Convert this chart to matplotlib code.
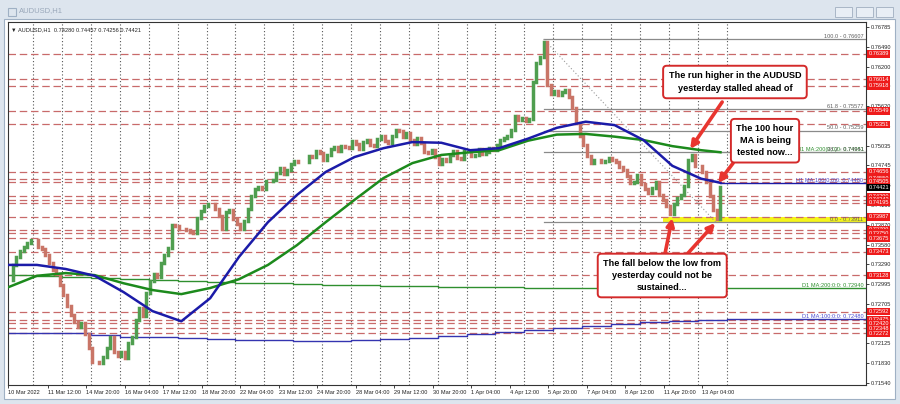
import matplotlib
matplotlib.use("Agg")
import matplotlib.pyplot as plt
from matplotlib.patches import Rectangle
from matplotlib.transforms import blended_transform_factory

plt.rcParams['font.family'] = ['Liberation Sans', 'DejaVu Sans']

# closes of every 3 hourly bars (bar 0 = 10 Mar 03:00)
bars_per_candle = 3
closes = [
    0.7306, 0.7328, 0.7340, 0.7349, 0.7354, 0.7360, 0.7365, 0.7365, 0.7354, 0.7351,
    0.7343, 0.7331, 0.7321, 0.7315, 0.7298, 0.7284, 0.7268, 0.7254, 0.7244, 0.7237,
    0.7242, 0.7226, 0.7206, 0.7185, 0.7185, 0.7184, 0.7192, 0.7206, 0.7222, 0.7200,
    0.7194, 0.7200, 0.7191, 0.7213, 0.7222, 0.7247, 0.7265, 0.7253, 0.7287, 0.7304,
    0.7315, 0.7310, 0.7331, 0.7343, 0.7353, 0.7387, 0.7385, 0.7381, 0.7381, 0.7379,
    0.7377, 0.7375, 0.7397, 0.7407, 0.7415, 0.7418, 0.7418, 0.7410, 0.7400, 0.7381,
    0.7406, 0.7409, 0.7396, 0.7388, 0.7381, 0.7393, 0.7410, 0.7430, 0.7440, 0.7443,
    0.7440, 0.7452, 0.7452, 0.7453, 0.7463, 0.7471, 0.7462, 0.7468, 0.7477, 0.7481,
    0.7480, 0.7480, 0.7480, 0.7489, 0.7487, 0.7496, 0.7493, 0.7483, 0.7490, 0.7499,
    0.7502, 0.7496, 0.7503, 0.7502, 0.7500, 0.7511, 0.7506, 0.7499, 0.7509, 0.7512,
    0.7505, 0.7503, 0.7514, 0.7518, 0.7511, 0.7508, 0.7518, 0.7527, 0.7525, 0.7516,
    0.7522, 0.7512, 0.7506, 0.7515, 0.7508, 0.7494, 0.7493, 0.7497, 0.7487, 0.7477,
    0.7484, 0.7481, 0.7490, 0.7496, 0.7486, 0.7484, 0.7496, 0.7496, 0.7489, 0.7490,
    0.7499, 0.7491, 0.7494, 0.7500, 0.7497, 0.7505, 0.7512, 0.7515, 0.7518, 0.7527,
    0.7547, 0.7542, 0.7544, 0.7540, 0.7543, 0.7598, 0.7626, 0.7634, 0.7656, 0.7593,
    0.7580, 0.7584, 0.7578, 0.7583, 0.7586, 0.7575, 0.7559, 0.7537, 0.7518, 0.7505,
    0.7489, 0.7478, 0.7483, 0.7483, 0.7480, 0.7481, 0.7486, 0.7483, 0.7480, 0.7472,
    0.7468, 0.7459, 0.7449, 0.7450, 0.7461, 0.7447, 0.7440, 0.7434, 0.7441, 0.7450,
    0.7431, 0.7424, 0.7415, 0.7403, 0.7418, 0.7427, 0.7431, 0.7444, 0.7483, 0.7490,
    0.7474, 0.7474, 0.7465, 0.7450, 0.7430, 0.7409, 0.7396, 0.74421,
]

# hourly moving averages read every 24 bars
ma_bars = [0, 24, 48, 72, 96, 120, 144, 168, 192, 216, 240, 264, 288, 312, 336,
           360, 384, 408, 432, 456, 480, 504, 528, 552, 576, 592]
h1_ma100 = [0.7328, 0.7328, 0.7322, 0.7312, 0.7288, 0.7260, 0.7245, 0.7279, 0.7340,
            0.7391, 0.7431, 0.7465, 0.7487, 0.7500, 0.7509, 0.7508, 0.7497, 0.7500,
            0.7514, 0.7530, 0.7539, 0.7534, 0.7512, 0.7474, 0.7455, 0.7449]
h1_ma200 = [0.7295, 0.7312, 0.7316, 0.7313, 0.7301, 0.7291, 0.7285, 0.7294, 0.7307,
            0.7328, 0.7357, 0.7391, 0.7424, 0.7456, 0.7478, 0.7490, 0.7494, 0.7497,
            0.7511, 0.7520, 0.7521, 0.7517, 0.7512, 0.7503, 0.7497, 0.7494]

# daily moving averages (one value per day)
day_starts = [0] + [21 + 24 * k for k in range(25)]
d1_ma200 = [0.7313, 0.7312, 0.7310, 0.7309, 0.7307, 0.7306, 0.7304, 0.7303, 0.7301,
            0.7301, 0.7300, 0.7298, 0.7298, 0.7297, 0.7297, 0.7295, 0.7295, 0.7295,
            0.7294, 0.7294, 0.7294, 0.7294, 0.7294, 0.7294, 0.7294, 0.7294]
d1_ma100 = [0.7228, 0.7228, 0.7228, 0.7225, 0.7222, 0.7222, 0.7220, 0.7219, 0.7217,
            0.7217, 0.7216, 0.7216, 0.7217, 0.7219, 0.7220, 0.7223, 0.7226, 0.7229,
            0.7232, 0.7235, 0.7238, 0.7241, 0.7244, 0.7245, 0.7247, 0.7248]

level_prices = [0.76389, 0.76014, 0.75918, 0.75549, 0.75351, 0.74656, 0.74550, 0.74505,
                0.74290, 0.74243, 0.74195, 0.73987, 0.73799, 0.73750, 0.73675, 0.73473,
                0.73128, 0.72592, 0.72475, 0.72420, 0.72348, 0.72272]
fib_levels = ['100.0', '61.8', '50.0', '38.2', '0.0']
fib_prices = [0.76607, 0.75577, 0.75259, 0.74941, 0.73911]
fib_from_bar, fib_to_bar = 445, 588
yellow_zone = (0.73915, 0.73990)
yellow_from_bar = 544
last_price = 0.74421
ma100_now = 0.74480

yticks = [0.71540, 0.71830, 0.72125, 0.72415, 0.72705, 0.72995, 0.73290, 0.73580,
          0.73870, 0.74160, 0.74455, 0.74745, 0.75035, 0.75325, 0.75620, 0.75910,
          0.76200, 0.76490, 0.76785]
xtick_bars = [0] + [1 + 32 * k for k in range(1, 19)]
xtick_labels = ['10 Mar 2022', '11 Mar 12:00', '14 Mar 20:00', '16 Mar 04:00',
                '17 Mar 12:00', '18 Mar 20:00', '22 Mar 04:00', '23 Mar 12:00',
                '24 Mar 20:00', '28 Mar 04:00', '29 Mar 12:00', '30 Mar 20:00',
                '1 Apr 04:00', '4 Apr 12:00', '5 Apr 20:00', '7 Apr 04:00',
                '8 Apr 12:00', '11 Apr 20:00', '13 Apr 04:00']
grid_bars = [21 + 24 * k for k in range(25)]

W, H = 900, 404
fig = plt.figure(figsize=(W / 100, H / 100), dpi=100)
fig.patch.set_facecolor('#dde5ee')


def fx(x):
    return x / W


def fy(y):
    return 1 - y / H


# window chrome (behind the axes)
fig.add_artist(Rectangle((fx(4), fy(399)), fx(891), 380 / H, transform=fig.transFigure,
                         facecolor='white', edgecolor='#9fb0c4', lw=0.8, zorder=-5))
fig.add_artist(Rectangle((fx(8), fy(16)), fx(8), 8 / H, transform=fig.transFigure,
                         facecolor='none', edgecolor='#9fb0c4', lw=0.8, zorder=-5))
fig.text(fx(19), fy(11), 'AUDUSD,H1', fontsize=5.5, color='#9aa8ba', va='center')
for bx in [835, 856, 876]:
    fig.add_artist(Rectangle((fx(bx), fy(17)), fx(17), 10 / H, transform=fig.transFigure,
                             facecolor='#e8eef5', edgecolor='#a9b6c6', lw=0.7, zorder=-5))

ax = fig.add_axes([fx(8), fy(385), fx(858), 363 / H])
ax.set_facecolor('white')
ax.set_xlim(0.8, 712.9)
ax.set_ylim(0.71511, 0.76859)

# dotted day grid
for g in grid_bars:
    ax.axvline(g, color='#555555', lw=0.8, ls=(0, (1, 2)), zorder=1)

# support / resistance levels
for p in level_prices:
    ax.axhline(p, color='#c86a6a', lw=0.9, ls=(0, (6, 3)), zorder=1.5)

# yellow zone
ax.add_patch(Rectangle((yellow_from_bar, yellow_zone[0]), 800, yellow_zone[1] - yellow_zone[0],
                       facecolor='#f5f51a', edgecolor='none', zorder=1.4))

# fibonacci
for lab, p in zip(fib_levels, fib_prices):
    ax.plot([fib_from_bar, 712.9], [p, p], color='#8a8a8a', lw=0.9, zorder=1.6)
ax.plot([fib_from_bar, fib_to_bar], [fib_prices[0], fib_prices[-1]], color='#9a9a9a',
        lw=0.8, ls=(0, (1, 2)), zorder=1.6)

# daily MAs
d_x = day_starts + [712.9]
ax.step(d_x, d1_ma200 + [d1_ma200[-1]], where='post', color='#2f8f2f', lw=1.0, zorder=2)
ax.step(d_x, d1_ma100 + [d1_ma100[-1]], where='post', color='#3434b0', lw=1.0, zorder=2)

# candles
xs, opens, cl, cols = [], [], [], []
for j, c in enumerate(closes):
    o = closes[j - 1] if j > 0 else c
    xs.append(bars_per_candle * j + 1)
    opens.append(o)
    cl.append(c)
    cols.append('#4f9e4f' if c >= o else '#c97567')
vl = ax.vlines(xs, opens, cl, colors=cols, lw=2.5, zorder=3)
vl.set_capstyle('projecting')

# hourly MAs
ax.plot(ma_bars, h1_ma200, color='#1c8a1c', lw=1.8, zorder=4)
ax.plot(ma_bars, h1_ma100, color='#1b1ba8', lw=1.8, zorder=4)
ax.plot([ma_bars[-1], 712.9], [ma100_now, ma100_now], color='#1b1ba8', lw=1.0, zorder=4)
ax.plot([ma_bars[-1], 712.9], [h1_ma200[-1], h1_ma200[-1]], color='#1c8a1c', lw=0.8, zorder=1.55)

# line labels inside chart
tr = blended_transform_factory(ax.transAxes, ax.transData)
ax.text(0.997, h1_ma200[-1] + 0.00003, 'H1 MA:200(0,0)0: 0.74951', transform=tr, ha='right',
        va='bottom', fontsize=4.1, color='#2f8f2f', zorder=5)
for lab, p in zip(fib_levels, fib_prices):
    ax.text(0.997, p + 0.00003, f'{lab} - {p:.5f}', transform=tr, ha='right', va='bottom',
            fontsize=4.1, color='#5f5f5f', zorder=5)
ax.text(0.997, ma100_now + 0.00003, 'H1 MA:100(0,0)0: 0.74480', transform=tr, ha='right',
        va='bottom', fontsize=4.1, color='#4a4ad0', zorder=5)
ax.text(0.997, d1_ma200[-1] + 0.00003, 'D1 MA:200:0:0: 0.72940', transform=tr, ha='right',
        va='bottom', fontsize=4.1, color='#2f8f2f', zorder=5)
ax.text(0.997, d1_ma100[-1] + 0.00003, 'D1 MA:100:0:0: 0.72480', transform=tr, ha='right',
        va='bottom', fontsize=4.1, color='#4a4ad0', zorder=5)

ax.text(0.004, 0.985, '\u25bc AUDUSD,H1  0.74280 0.74457 0.74256 0.74421', transform=ax.transAxes,
        fontsize=4.1, color='#222222', va='top', ha='left', zorder=5)

# axes styling
ax.yaxis.tick_right()
ax.set_yticks(yticks)
ax.set_yticklabels([f'{t:.5f}' for t in yticks])
ax.tick_params(axis='y', length=2, width=0.6, pad=1.5, labelsize=4.1, colors='#222222')
ax.set_xticks(xtick_bars)
ax.set_xticklabels(xtick_labels, ha='left')
ax.tick_params(axis='x', length=2, width=0.6, pad=1.5, labelsize=4.1, colors='#222222')
for s in ax.spines.values():
    s.set_color('#333333')
    s.set_linewidth(0.8)

# price labels on the right
for p in level_prices:
    ax.text(1.003, p, f'{p:.5f}', transform=tr, ha='left', va='center', fontsize=4.1,
            color='white', clip_on=False, zorder=6,
            bbox=dict(boxstyle='square,pad=0.2', fc='#ee1b1b', ec='none'))
ax.text(1.003, last_price, f'{last_price:.5f}', transform=tr, ha='left', va='center',
        fontsize=4.1, color='white', clip_on=False, zorder=7,
        bbox=dict(boxstyle='square,pad=0.2', fc='black', ec='none'))

# annotations
box = dict(boxstyle='round,pad=0.6,rounding_size=0.4', fc='white', ec='#d42a2a', lw=1.4)
arrow = dict(arrowstyle='-|>', color='#e8352f', lw=2.6, mutation_scale=11, shrinkA=0, shrinkB=0)
ax.text(604, 0.75975, 'The run higher in the AUDUSD\nyesterday stalled ahead of',
        ha='center', va='center', fontsize=6.6, fontweight='bold', bbox=box, zorder=8,
        linespacing=1.5)
ax.text(629, 0.75110, 'The 100 hour\nMA is being\ntested now...',
        ha='center', va='center', fontsize=6.6, fontweight='bold', bbox=box, zorder=8,
        linespacing=1.4)
ax.text(543.6, 0.73124, 'The fall below the low from\nyesterday could not be\nsustained...',
        ha='center', va='center', fontsize=6.6, fontweight='bold', bbox=box, zorder=8,
        linespacing=1.4)
ax.annotate('', xy=(566.8, 0.74988), xytext=(593.4, 0.75680), arrowprops=arrow, zorder=7)
ax.annotate('', xy=(590, 0.74487), xytext=(602.5, 0.74781), arrowprops=arrow, zorder=7)
ax.annotate('', xy=(551.9, 0.73971), xytext=(546, 0.73455), arrowprops=arrow, zorder=7)
ax.annotate('', xy=(587.6, 0.73897), xytext=(565.1, 0.73455), arrowprops=arrow, zorder=7)

fig.savefig('out.png', dpi=100, facecolor=fig.get_facecolor())
